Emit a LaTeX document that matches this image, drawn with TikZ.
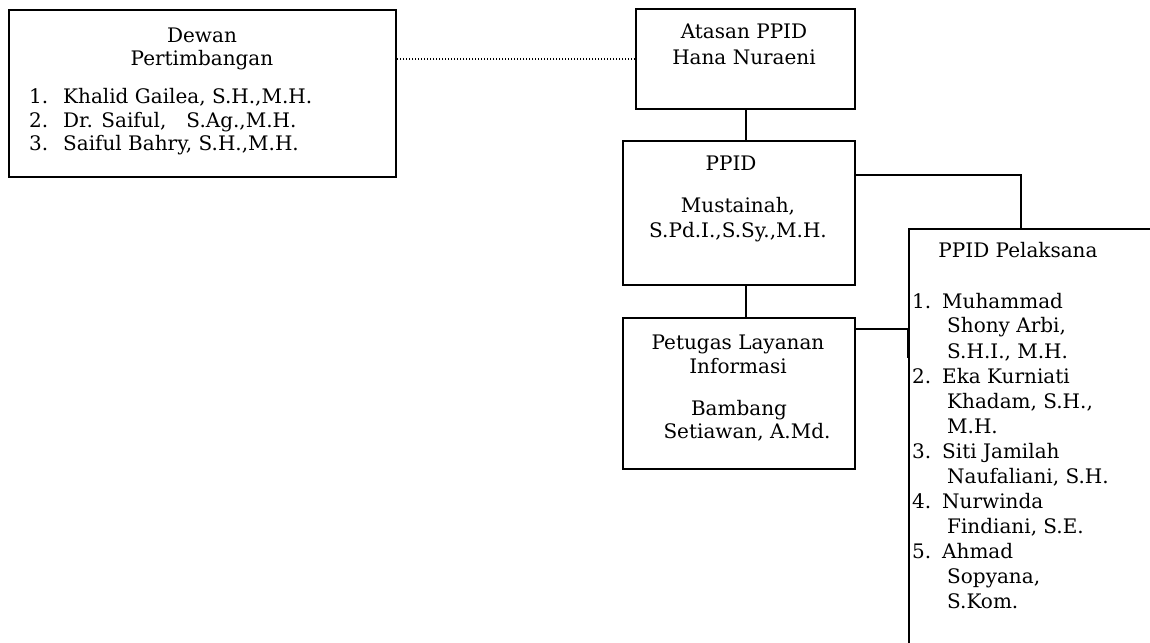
\documentclass[tikz,border=0pt]{standalone}
\usepackage{fontspec}
\setmainfont{DejaVu Serif}
\tikzset{
    kotak/.style={draw, line width=2pt, rectangle, inner sep=0pt, anchor=north west},
    teks/.style={font=\fontsize{20}{24}\selectfont, inner sep=0pt, anchor=base},
    teksL/.style={teks, anchor=base west},
    garis/.style={line width=2pt},
    titik/.style={line width=1.2pt, dash pattern=on 1pt off 2pt}
}
\begin{document}
\begin{tikzpicture}[x=1pt, y=-1pt]
        \useasboundingbox (0,0) rectangle (1150,642);
        \clip (0,0) rectangle (1150,642);
        % kotak
        \node[kotak, minimum width=387pt, minimum height=167pt] (dewan) at (8,9) {};
        \node[kotak, minimum width=219pt, minimum height=100pt] (atasan) at (635,8) {};
        \node[kotak, minimum width=232pt, minimum height=144pt] (ppid) at (622,140) {};
        \node[kotak, minimum width=232pt, minimum height=151pt] (petugas) at (622,317) {};
        \node[kotak, minimum width=300pt, minimum height=500pt] (pelaksana) at (908,228) {};
        % garis penghubung
        \coordinate (kanan) at (1021,175);
        \coordinate (bawah) at (908,329);
        \draw[titik] (atasan.west) -- (atasan.west -| dewan.east);
        \draw[garis] (atasan.south) -- (atasan.south |- ppid.north);
        \draw[garis] (atasan.south |- ppid.south) -- (atasan.south |- petugas.north);
        \draw[garis] (kanan -| ppid.east) -| (pelaksana.north -| kanan);
        \draw[garis] (bawah -| petugas.east) -- (bawah) -- ++(0,29);
        % Dewan Pertimbangan
        \node[teks] (dewan1) at (202,42) {Dewan};
        \node[teks] (dewan2) at (202,65) {Pertimbangan};
        \node[teksL] (dewan3) at (29,103) {\makebox[34pt][l]{1.}Khalid Gailea, S.H.,M.H.};
        \node[teksL] (dewan4) at (29,127) {\makebox[34pt][l]{2.}Dr. Saiful,\hspace{20pt}S.Ag.,M.H.};
        \node[teksL] (dewan5) at (29,150) {\makebox[34pt][l]{3.}Saiful Bahry, S.H.,M.H.};
        % Atasan PPID
        \node[teks] (atasan1) at (744,38) {Atasan PPID};
        \node[teks] (atasan2) at (744,64) {Hana Nuraeni};
        % PPID
        \node[teks] (ppid1) at (731,170) {PPID};
        \node[teks] (ppid2) at (738,212) {Mustainah,};
        \node[teks] (ppid3) at (738,237) {S.Pd.I.,S.Sy.,M.H.};
        % Petugas Layanan Informasi
        \node[teks] (petugas1) at (738,349) {Petugas Layanan};
        \node[teks] (petugas2) at (738,373) {Informasi};
        \node[teks] (petugas3) at (739,415) {Bambang};
        \node[teks] (petugas4) at (747,438) {Setiawan, A.Md.};
        % PPID Pelaksana
        \node[teks] (pel0) at (1018,257) {PPID Pelaksana};
        \node[teksL] (pel1) at (912,308) {\makebox[30pt][l]{1.}Muhammad};
        \node[teksL] (pel2) at (947,332) {Shony Arbi,};
        \node[teksL] (pel3) at (947,358) {S.H.I., M.H.};
        \node[teksL] (pel4) at (912,383) {\makebox[30pt][l]{2.}Eka Kurniati};
        \node[teksL] (pel5) at (947,408) {Khadam, S.H.,};
        \node[teksL] (pel6) at (947,433) {M.H.};
        \node[teksL] (pel7) at (912,458) {\makebox[30pt][l]{3.}Siti Jamilah};
        \node[teksL] (pel8) at (947,483) {Naufaliani, S.H.};
        \node[teksL] (pel9) at (912,508) {\makebox[30pt][l]{4.}Nurwinda};
        \node[teksL] (pel10) at (947,533) {Findiani, S.E.};
        \node[teksL] (pel11) at (912,558) {\makebox[30pt][l]{5.}Ahmad};
        \node[teksL] (pel12) at (947,583) {Sopyana,};
        \node[teksL] (pel13) at (947,608) {S.Kom.};
\end{tikzpicture}
\end{document}
